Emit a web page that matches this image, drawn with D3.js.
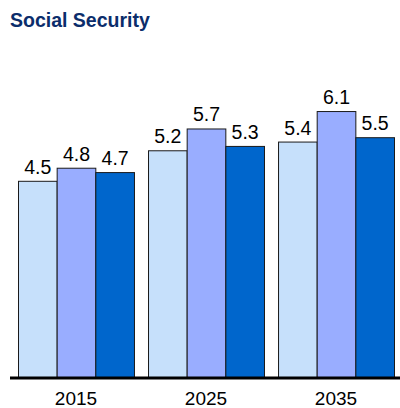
<!DOCTYPE html>
<html>
<head>
<meta charset="utf-8">
<script src="https://cdn.jsdelivr.net/npm/d3@7"></script>
<style>
  html, body { margin: 0; padding: 0; background: #fff; }
  svg { display: block; font-family: Arial, "Liberation Sans", sans-serif; }
</style>
</head>
<body>
<svg id="chart" width="400" height="408"></svg>
<script>
// Social Security projections by year, three series per year
const years = ["2015", "2025", "2035"];
const seriesNames = ["Series A", "Series B", "Series C"];
const seriesA = [4.5, 5.2, 5.4];
const seriesB = [4.8, 5.7, 6.1];
const seriesC = [4.7, 5.3, 5.5];
const seriesColors = ["#c6e0fb", "#99adff", "#0066cc"];

const svg = d3.select("#chart");
const baseY = 377;

const x0 = d3.scaleBand().domain(years).range([18, 394]).paddingInner(0.108).paddingOuter(0);
const x1 = d3.scaleBand().domain(seriesNames).range([0, x0.bandwidth()]);
const y = d3.scaleLinear().domain([0, 7.5]).range([baseY, 50]);

const rows = years.map((yr, i) => ({
  year: yr,
  values: [seriesA[i], seriesB[i], seriesC[i]].map((v, j) => ({ key: seriesNames[j], value: v, color: seriesColors[j] }))
}));

svg.append("text")
  .attr("x", 10).attr("y", 27)
  .attr("font-size", 19.5).attr("font-weight", "bold")
  .attr("fill", "#0b2d6b")
  .text("Social Security");

const groups = svg.selectAll("g.grp").data(rows).join("g")
  .attr("class", "grp")
  .attr("transform", d => `translate(${x0(d.year)},0)`);

groups.selectAll("rect").data(d => d.values).join("rect")
  .attr("x", d => x1(d.key) + 0.5)
  .attr("y", d => y(d.value) + 0.5)
  .attr("width", x1.bandwidth())
  .attr("height", d => baseY - y(d.value))
  .attr("fill", d => d.color)
  .attr("stroke", "#1a1a1a")
  .attr("stroke-width", 1);

groups.selectAll("text.val").data(d => d.values).join("text")
  .attr("class", "val")
  .attr("x", d => x1(d.key) + x1.bandwidth() / 2 + 0.5)
  .attr("y", d => y(d.value) - 7)
  .attr("text-anchor", "middle")
  .attr("font-size", 19.5)
  .attr("fill", "#000")
  .text(d => d.value.toFixed(1));

// year labels under each group
const axis = d3.axisBottom(x0).tickSize(0).tickPadding(0);
const ax = svg.append("g").attr("transform", `translate(0,${baseY})`).call(axis);
ax.select(".domain").remove();
ax.selectAll("text")
  .attr("dy", null)
  .attr("y", 28)
  .attr("font-size", 19).attr("fill", "#000")
  .attr("font-family", "Arial, 'Liberation Sans', sans-serif");

// baseline
svg.append("line")
  .attr("x1", 10).attr("x2", 400)
  .attr("y1", baseY + 1).attr("y2", baseY + 1)
  .attr("stroke", "#000").attr("stroke-width", 3);
</script>
</body>
</html>
